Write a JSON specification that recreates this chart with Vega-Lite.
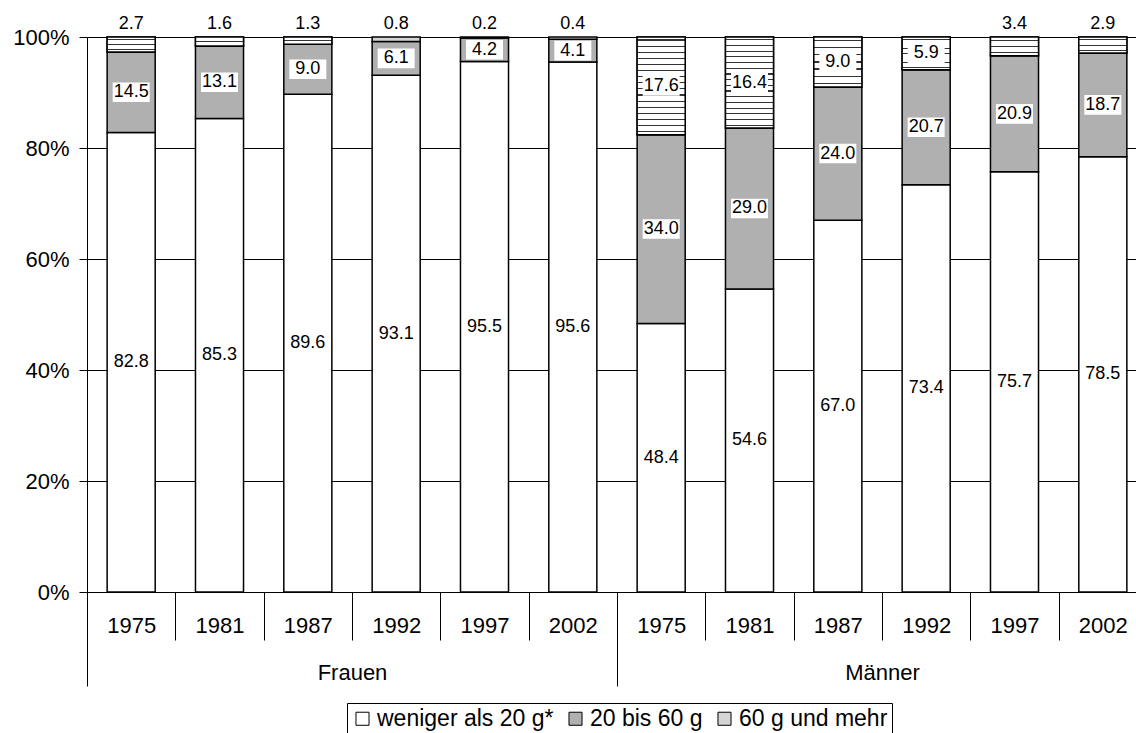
{
  "$schema": "https://vega.github.io/schema/vega-lite/v6.json",
  "width": 1060,
  "height": 555,
  "autosize": {"type": "none"},
  "padding": {"left": 87, "top": 37, "right": -11, "bottom": 141},
  "config": {"view": {"stroke": null}, "font": "Liberation Sans"},
  "data": {
    "values": [
      {"group": "Frauen", "year": "1975", "cat": "weniger als 20 g*", "value": 82.8},
      {"group": "Frauen", "year": "1975", "cat": "20 bis 60 g", "value": 14.5},
      {"group": "Frauen", "year": "1975", "cat": "60 g und mehr", "value": 2.7},
      {"group": "Frauen", "year": "1981", "cat": "weniger als 20 g*", "value": 85.3},
      {"group": "Frauen", "year": "1981", "cat": "20 bis 60 g", "value": 13.1},
      {"group": "Frauen", "year": "1981", "cat": "60 g und mehr", "value": 1.6},
      {"group": "Frauen", "year": "1987", "cat": "weniger als 20 g*", "value": 89.6},
      {"group": "Frauen", "year": "1987", "cat": "20 bis 60 g", "value": 9.0},
      {"group": "Frauen", "year": "1987", "cat": "60 g und mehr", "value": 1.3},
      {"group": "Frauen", "year": "1992", "cat": "weniger als 20 g*", "value": 93.1},
      {"group": "Frauen", "year": "1992", "cat": "20 bis 60 g", "value": 6.1},
      {"group": "Frauen", "year": "1992", "cat": "60 g und mehr", "value": 0.8},
      {"group": "Frauen", "year": "1997", "cat": "weniger als 20 g*", "value": 95.5},
      {"group": "Frauen", "year": "1997", "cat": "20 bis 60 g", "value": 4.2},
      {"group": "Frauen", "year": "1997", "cat": "60 g und mehr", "value": 0.2},
      {"group": "Frauen", "year": "2002", "cat": "weniger als 20 g*", "value": 95.6},
      {"group": "Frauen", "year": "2002", "cat": "20 bis 60 g", "value": 4.1},
      {"group": "Frauen", "year": "2002", "cat": "60 g und mehr", "value": 0.4},
      {"group": "Männer", "year": "1975", "cat": "weniger als 20 g*", "value": 48.4},
      {"group": "Männer", "year": "1975", "cat": "20 bis 60 g", "value": 34.0},
      {"group": "Männer", "year": "1975", "cat": "60 g und mehr", "value": 17.6},
      {"group": "Männer", "year": "1981", "cat": "weniger als 20 g*", "value": 54.6},
      {"group": "Männer", "year": "1981", "cat": "20 bis 60 g", "value": 29.0},
      {"group": "Männer", "year": "1981", "cat": "60 g und mehr", "value": 16.4},
      {"group": "Männer", "year": "1987", "cat": "weniger als 20 g*", "value": 67.0},
      {"group": "Männer", "year": "1987", "cat": "20 bis 60 g", "value": 24.0},
      {"group": "Männer", "year": "1987", "cat": "60 g und mehr", "value": 9.0},
      {"group": "Männer", "year": "1992", "cat": "weniger als 20 g*", "value": 73.4},
      {"group": "Männer", "year": "1992", "cat": "20 bis 60 g", "value": 20.7},
      {"group": "Männer", "year": "1992", "cat": "60 g und mehr", "value": 5.9},
      {"group": "Männer", "year": "1997", "cat": "weniger als 20 g*", "value": 75.7},
      {"group": "Männer", "year": "1997", "cat": "20 bis 60 g", "value": 20.9},
      {"group": "Männer", "year": "1997", "cat": "60 g und mehr", "value": 3.4},
      {"group": "Männer", "year": "2002", "cat": "weniger als 20 g*", "value": 78.5},
      {"group": "Männer", "year": "2002", "cat": "20 bis 60 g", "value": 18.7},
      {"group": "Männer", "year": "2002", "cat": "60 g und mehr", "value": 2.9}
    ]
  },
  "transform": [
    {"calculate": "indexof(['weniger als 20 g*', '20 bis 60 g', '60 g und mehr'], datum.cat)", "as": "ord"},
    {"calculate": "datum.group + ' ' + datum.year", "as": "key"},
    {"stack": "value", "groupby": ["key"], "sort": [{"field": "ord"}], "offset": "normalize", "as": ["y0", "y1"]},
    {"calculate": "(datum.y0 + datum.y1) / 2", "as": "ymid"}
  ],
  "resolve": {"scale": {"x": "independent"}, "axis": {"x": "independent"}},
  "layer": [
    {
      "encoding": {
        "x": {
          "field": "key",
          "type": "nominal",
          "scale": {"type": "band", "paddingInner": 0, "paddingOuter": 0},
          "axis": {
            "orient": "bottom",
            "title": null,
            "labelExpr": "split(datum.label, ' ')[1]",
            "labelAngle": 0,
            "tickBand": "extent",
            "tickSize": 48,
            "tickColor": "black",
            "domainColor": "black",
            "labelPadding": -15,
            "labelBaseline": "middle",
            "labelFontSize": 22,
            "labelColor": "black"
          }
        }
      },
      "layer": [
        {
          "mark": {"type": "bar", "width": {"band": 0.544}, "stroke": "black", "strokeWidth": 1.5},
          "encoding": {
            "y": {
              "field": "y0",
              "type": "quantitative",
              "scale": {"domain": [0, 1], "nice": false},
              "axis": {
                "title": null,
                "values": [0, 0.2, 0.4, 0.6, 0.8, 1],
                "format": ".0%",
                "grid": true,
                "gridColor": "black",
                "gridOpacity": 1,
                "gridWidth": 1,
                "domainColor": "black",
                "tickColor": "black",
                "tickSize": 8,
                "labelPadding": 10,
                "labelFontSize": 22,
                "labelColor": "black"
              }
            },
            "y2": {"field": "y1"},
            "fill": {
              "field": "cat",
              "type": "nominal",
              "scale": {
                "domain": ["weniger als 20 g*", "20 bis 60 g", "60 g und mehr"],
                "range": ["white", "#b0b0b0", "#d4d4d4"]
              },
              "legend": {
                "orient": "none",
                "legendX": 260,
                "legendY": 666,
                "direction": "horizontal",
                "title": null,
                "strokeColor": "black",
                "fillColor": "white",
                "padding": 4,
                "symbolType": "square",
                "symbolSize": 170,
                "symbolStrokeColor": "black",
                "symbolStrokeWidth": 1,
                "labelFontSize": 23,
                "labelColor": "black",
                "labelOffset": 3,
                "labelLimit": 300,
                "columnPadding": 10
              }
            }
          }
        },
        {
          "transform": [{"filter": "datum.cat == '60 g und mehr' && datum.value >= 15"}],
          "mark": {
            "type": "bar", "width": {"band": 0.544}, "stroke": "black", "strokeWidth": 1.5,
            "fill": {"gradient": "linear", "x1": 0, "y1": 0, "x2": 0, "y2": 1, "stops": [
              {"offset": 0, "color": "white"},
              {"offset": 0.02525, "color": "white"}, {"offset": 0.02525, "color": "#333"}, {"offset": 0.03725, "color": "#333"}, {"offset": 0.03725, "color": "white"},
              {"offset": 0.08775, "color": "white"}, {"offset": 0.08775, "color": "#333"}, {"offset": 0.09975, "color": "#333"}, {"offset": 0.09975, "color": "white"},
              {"offset": 0.15025, "color": "white"}, {"offset": 0.15025, "color": "#333"}, {"offset": 0.16225, "color": "#333"}, {"offset": 0.16225, "color": "white"},
              {"offset": 0.21275, "color": "white"}, {"offset": 0.21275, "color": "#333"}, {"offset": 0.22475, "color": "#333"}, {"offset": 0.22475, "color": "white"},
              {"offset": 0.27525, "color": "white"}, {"offset": 0.27525, "color": "#333"}, {"offset": 0.28725, "color": "#333"}, {"offset": 0.28725, "color": "white"},
              {"offset": 0.33775, "color": "white"}, {"offset": 0.33775, "color": "#333"}, {"offset": 0.34975, "color": "#333"}, {"offset": 0.34975, "color": "white"},
              {"offset": 0.40025, "color": "white"}, {"offset": 0.40025, "color": "#333"}, {"offset": 0.41225, "color": "#333"}, {"offset": 0.41225, "color": "white"},
              {"offset": 0.46275, "color": "white"}, {"offset": 0.46275, "color": "#333"}, {"offset": 0.47475, "color": "#333"}, {"offset": 0.47475, "color": "white"},
              {"offset": 0.52525, "color": "white"}, {"offset": 0.52525, "color": "#333"}, {"offset": 0.53725, "color": "#333"}, {"offset": 0.53725, "color": "white"},
              {"offset": 0.58775, "color": "white"}, {"offset": 0.58775, "color": "#333"}, {"offset": 0.59975, "color": "#333"}, {"offset": 0.59975, "color": "white"},
              {"offset": 0.65025, "color": "white"}, {"offset": 0.65025, "color": "#333"}, {"offset": 0.66225, "color": "#333"}, {"offset": 0.66225, "color": "white"},
              {"offset": 0.71275, "color": "white"}, {"offset": 0.71275, "color": "#333"}, {"offset": 0.72475, "color": "#333"}, {"offset": 0.72475, "color": "white"},
              {"offset": 0.77525, "color": "white"}, {"offset": 0.77525, "color": "#333"}, {"offset": 0.78725, "color": "#333"}, {"offset": 0.78725, "color": "white"},
              {"offset": 0.83775, "color": "white"}, {"offset": 0.83775, "color": "#333"}, {"offset": 0.84975, "color": "#333"}, {"offset": 0.84975, "color": "white"},
              {"offset": 0.90025, "color": "white"}, {"offset": 0.90025, "color": "#333"}, {"offset": 0.91225, "color": "#333"}, {"offset": 0.91225, "color": "white"},
              {"offset": 0.96275, "color": "white"}, {"offset": 0.96275, "color": "#333"}, {"offset": 0.97475, "color": "#333"}, {"offset": 0.97475, "color": "white"},
              {"offset": 1, "color": "white"}
            ]}
          },
          "encoding": {"y": {"field": "y0", "type": "quantitative"}, "y2": {"field": "y1"}}
        },
        {
          "transform": [{"filter": "datum.cat == '60 g und mehr' && datum.value >= 5 && datum.value < 15"}],
          "mark": {
            "type": "bar", "width": {"band": 0.544}, "stroke": "black", "strokeWidth": 1.5,
            "fill": {"gradient": "linear", "x1": 0, "y1": 0, "x2": 0, "y2": 1, "stops": [
              {"offset": 0, "color": "white"},
              {"offset": 0.0584, "color": "white"}, {"offset": 0.0584, "color": "#333"}, {"offset": 0.0844, "color": "#333"}, {"offset": 0.0844, "color": "white"},
              {"offset": 0.2013, "color": "white"}, {"offset": 0.2013, "color": "#333"}, {"offset": 0.2273, "color": "#333"}, {"offset": 0.2273, "color": "white"},
              {"offset": 0.3441, "color": "white"}, {"offset": 0.3441, "color": "#333"}, {"offset": 0.3701, "color": "#333"}, {"offset": 0.3701, "color": "white"},
              {"offset": 0.487, "color": "white"}, {"offset": 0.487, "color": "#333"}, {"offset": 0.513, "color": "#333"}, {"offset": 0.513, "color": "white"},
              {"offset": 0.6299, "color": "white"}, {"offset": 0.6299, "color": "#333"}, {"offset": 0.6559, "color": "#333"}, {"offset": 0.6559, "color": "white"},
              {"offset": 0.7727, "color": "white"}, {"offset": 0.7727, "color": "#333"}, {"offset": 0.7987, "color": "#333"}, {"offset": 0.7987, "color": "white"},
              {"offset": 0.9156, "color": "white"}, {"offset": 0.9156, "color": "#333"}, {"offset": 0.9416, "color": "#333"}, {"offset": 0.9416, "color": "white"},
              {"offset": 1, "color": "white"}
            ]}
          },
          "encoding": {"y": {"field": "y0", "type": "quantitative"}, "y2": {"field": "y1"}}
        },
        {
          "transform": [{"filter": "datum.cat == '60 g und mehr' && datum.value >= 2.5 && datum.value < 5"}],
          "mark": {
            "type": "bar", "width": {"band": 0.544}, "stroke": "black", "strokeWidth": 1.5,
            "fill": {"gradient": "linear", "x1": 0, "y1": 0, "x2": 0, "y2": 1, "stops": [
              {"offset": 0, "color": "white"},
              {"offset": 0.1347, "color": "white"}, {"offset": 0.1347, "color": "#333"}, {"offset": 0.1987, "color": "#333"}, {"offset": 0.1987, "color": "white"},
              {"offset": 0.468, "color": "white"}, {"offset": 0.468, "color": "#333"}, {"offset": 0.532, "color": "#333"}, {"offset": 0.532, "color": "white"},
              {"offset": 0.8013, "color": "white"}, {"offset": 0.8013, "color": "#333"}, {"offset": 0.8653, "color": "#333"}, {"offset": 0.8653, "color": "white"},
              {"offset": 1, "color": "white"}
            ]}
          },
          "encoding": {"y": {"field": "y0", "type": "quantitative"}, "y2": {"field": "y1"}}
        },
        {
          "transform": [{"filter": "datum.cat == '60 g und mehr' && datum.value >= 1 && datum.value < 2.5"}],
          "mark": {
            "type": "bar", "width": {"band": 0.544}, "stroke": "black", "strokeWidth": 1.5,
            "fill": {"gradient": "linear", "x1": 0, "y1": 0, "x2": 0, "y2": 1, "stops": [
              {"offset": 0, "color": "white"},
              {"offset": 0.435, "color": "white"}, {"offset": 0.435, "color": "#333"}, {"offset": 0.565, "color": "#333"}, {"offset": 0.565, "color": "white"},
              {"offset": 1, "color": "white"}
            ]}
          },
          "encoding": {"y": {"field": "y0", "type": "quantitative"}, "y2": {"field": "y1"}}
        },
        {
          "transform": [{"filter": "!(datum.cat == '60 g und mehr' && datum.value < 5) && datum.cat != 'weniger als 20 g*'"}],
          "mark": {"type": "point", "shape": "M-1,-0.53H1V0.53H-1Z", "size": 1369, "filled": true, "fill": "white", "stroke": null, "opacity": 1},
          "encoding": {"y": {"field": "ymid", "type": "quantitative"}}
        },
        {
          "transform": [{"filter": "!(datum.cat == '60 g und mehr' && datum.value < 5)"}],
          "mark": {"type": "text", "fontSize": 18, "color": "black", "baseline": "middle"},
          "encoding": {
            "y": {"field": "ymid", "type": "quantitative"},
            "text": {"field": "value", "type": "quantitative", "format": ".1f"}
          }
        },
        {
          "transform": [{"filter": "datum.cat == '60 g und mehr' && datum.value < 5"}],
          "mark": {"type": "text", "fontSize": 18, "color": "black", "baseline": "middle", "dy": -13},
          "encoding": {
            "y": {"field": "y1", "type": "quantitative"},
            "text": {"field": "value", "type": "quantitative", "format": ".1f"}
          }
        }
      ]
    },
    {
      "mark": {"type": "point", "opacity": 0},
      "encoding": {
        "x": {
          "field": "group",
          "type": "nominal",
          "scale": {"type": "band", "paddingInner": 0, "paddingOuter": 0},
          "axis": {
            "orient": "bottom",
            "title": null,
            "labelAngle": 0,
            "tickBand": "extent",
            "tickSize": 94,
            "tickColor": "black",
            "domain": false,
            "grid": false,
            "labelPadding": -14,
            "labelBaseline": "middle",
            "labelFontSize": 22,
            "labelColor": "black"
          }
        }
      }
    }
  ]
}
